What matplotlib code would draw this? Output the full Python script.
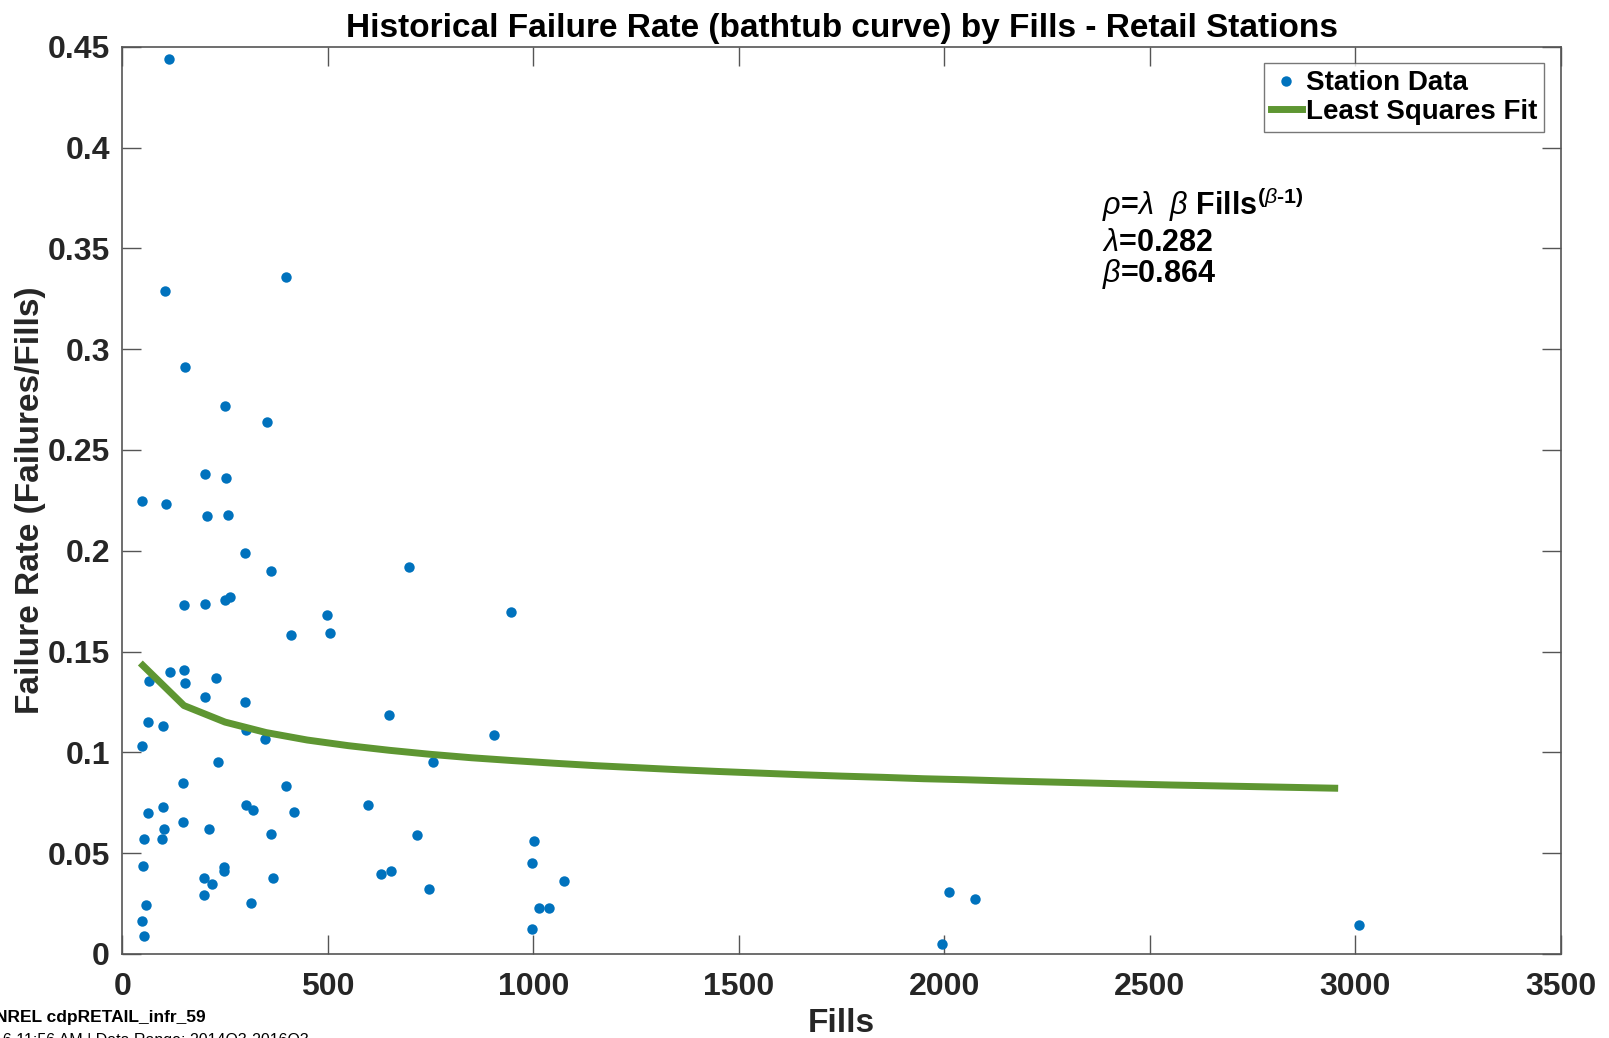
import matplotlib.pyplot as plt

plt.rcParams['font.family'] = ['Liberation Sans', 'DejaVu Sans']
plt.rcParams['font.weight'] = 'bold'
plt.rcParams['mathtext.fontset'] = 'custom'
plt.rcParams['mathtext.rm'] = 'Liberation Sans:bold'
plt.rcParams['mathtext.bf'] = 'Liberation Sans:bold'
plt.rcParams['mathtext.it'] = 'Liberation Sans:italic:normal'

# ---------- station data ----------
station_fills = [
    113, 103, 399, 152, 251, 351, 48, 107, 201, 252,
    206, 257, 299, 362, 697, 947, 150, 201, 249, 263,
    498, 411, 506, 66, 117, 150, 153, 229, 202, 298,
    648, 63, 100, 300, 348, 49, 904, 233, 755, 148,
    398, 63, 100, 300, 317, 419, 597, 148, 101, 212,
    53, 97, 362, 717, 1001, 50, 997, 248, 248, 199,
    218, 367, 629, 655, 1075, 747, 199, 57, 312, 1013,
    1038, 2011, 2074, 48, 997, 52, 1994, 3008,
]
station_rate = [
    0.444, 0.329, 0.336, 0.291, 0.272, 0.264, 0.2247, 0.2232, 0.238, 0.2362,
    0.2173, 0.2176, 0.199, 0.1897, 0.1919, 0.1694, 0.1731, 0.1735, 0.1756, 0.177,
    0.1683, 0.158, 0.159, 0.1355, 0.140, 0.141, 0.1343, 0.137, 0.1275, 0.1249,
    0.1184, 0.1151, 0.1133, 0.111, 0.1065, 0.103, 0.1085, 0.0954, 0.095, 0.0846,
    0.0834, 0.0701, 0.073, 0.0738, 0.0716, 0.0706, 0.0741, 0.0655, 0.0622, 0.062,
    0.0569, 0.0569, 0.0597, 0.0589, 0.0562, 0.0438, 0.0451, 0.0429, 0.041, 0.0375,
    0.0347, 0.0377, 0.0395, 0.041, 0.0364, 0.032, 0.0294, 0.0244, 0.0252, 0.0227,
    0.0227, 0.0309, 0.0271, 0.0161, 0.0126, 0.0088, 0.005, 0.0145,
]

# ---------- least squares fit line (lambda=0.282, beta=0.864) ----------
fit_fills = [50, 150, 250, 350, 450, 550, 650, 750, 850, 950,
             1050, 1150, 1250, 1350, 1450, 1550, 1650, 1750, 1850, 1950,
             2050, 2150, 2250, 2350, 2450, 2550, 2650, 2750, 2850, 2950]
fit_rate = [0.1431, 0.1232, 0.1150, 0.1098, 0.1061, 0.1033, 0.1010, 0.0990, 0.0973, 0.0959,
            0.0946, 0.0934, 0.0924, 0.0914, 0.0905, 0.0897, 0.0889, 0.0882, 0.0876, 0.0869,
            0.0864, 0.0858, 0.0853, 0.0848, 0.0843, 0.0838, 0.0834, 0.0830, 0.0826, 0.0822]

x_ticks = [0, 500, 1000, 1500, 2000, 2500, 3000, 3500]
y_ticks = [0, 0.05, 0.1, 0.15, 0.2, 0.25, 0.3, 0.35, 0.4, 0.45]
y_tick_labels = ['0', '0.05', '0.1', '0.15', '0.2', '0.25', '0.3', '0.35', '0.4', '0.45']

blue = '#0072BD'
green = '#5E9632'
axis_gray = '#262626'

fig = plt.figure(figsize=(16.09, 10.38), dpi=100)
ax = fig.add_axes([0.076, 0.081, 0.894, 0.874])

ax.plot(station_fills, station_rate, 'o', color=blue, ms=7.5, mew=0,
        label='Station Data')
ax.plot(fit_fills, fit_rate, '-', color=green, lw=5, label='Least Squares Fit')

ax.set_xlim(0, 3500)
ax.set_ylim(0, 0.45)
ax.set_xticks(x_ticks)
ax.set_yticks(y_ticks)
ax.set_yticklabels(y_tick_labels)

ax.tick_params(direction='in', length=14, width=1, top=True, right=True,
               colors='#555555', labelcolor=axis_gray, labelsize=23)
ax.tick_params(axis='x', pad=13)
ax.tick_params(axis='y', pad=9)
for lbl in ax.get_xticklabels() + ax.get_yticklabels():
    lbl.set_fontweight('bold')
for sp in ax.spines.values():
    sp.set_color('#555555')
    sp.set_linewidth(1.2)

ax.set_title('Historical Failure Rate (bathtub curve) by Fills - Retail Stations',
             fontsize=24, fontweight='bold', pad=7)
ax.set_xlabel('Fills', fontsize=24, fontweight='bold', labelpad=4, color=axis_gray)
ax.set_ylabel('Failure Rate (Failures/Fills)', fontsize=24, fontweight='bold',
              labelpad=1, color=axis_gray)

leg = ax.legend(loc='upper right', fontsize=20, frameon=True, fancybox=False,
                borderaxespad=0.6, handlelength=1.1, handletextpad=0.15,
                borderpad=0.25, labelspacing=0.1, markerscale=1.0)
leg.get_frame().set_edgecolor('#555555')
leg.get_frame().set_linewidth(1.0)
for t in leg.get_texts():
    t.set_fontweight('bold')

# fit equation annotation
ax.text(0.681, 0.826, r'$\rho$=$\lambda$  $\beta$ Fills$^{(\beta\text{-}1)}$',
        transform=ax.transAxes, fontsize=22, fontweight='bold', va='center')
ax.text(0.681, 0.784, r'$\lambda$=0.282', transform=ax.transAxes,
        fontsize=22, fontweight='bold', va='center')
ax.text(0.681, 0.749, r'$\beta$=0.864', transform=ax.transAxes,
        fontsize=22, fontweight='bold', va='center')

# footer (partly cut off at the figure edge, as in the original)
fig.text(-0.003, 0.020, 'NREL cdpRETAIL_infr_59', fontsize=12.5, fontweight='bold',
         va='center', ha='left')
fig.text(-0.004, -0.002, '16 11:56 AM | Data Range: 2014Q3-2016Q3', fontsize=11.5,
         fontweight='normal', va='center', ha='left')

fig.savefig('out.png', dpi=100)
